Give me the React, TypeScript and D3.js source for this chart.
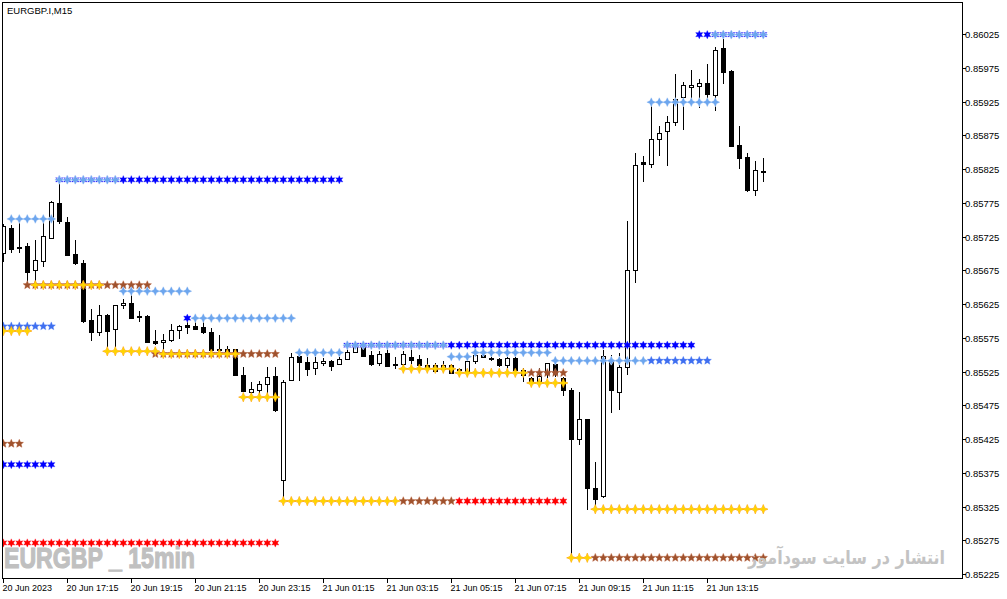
import React from "react";
import * as d3 from "d3";

const W = 1007;
const H = 599;

// ---- Candles (EURGBP.I M15), bar 0 = 20 Jun 2023 15:15 ----
const opens = [
  0.85701, 0.85738, 0.85709, 0.85711, 0.85675, 0.85689, 0.85723, 0.85775, 0.85747, 0.85699,
  0.85686, 0.85601, 0.85584, 0.85609, 0.85588, 0.85623, 0.85627, 0.85607, 0.85607, 0.8557,
  0.85568, 0.85571, 0.85587, 0.85594, 0.85592, 0.85591, 0.85584, 0.85558, 0.85558, 0.85558,
  0.8552, 0.85495, 0.85497, 0.85507, 0.85518, 0.85364, 0.85512, 0.85548, 0.85539, 0.8553,
  0.85538, 0.85541, 0.85536, 0.85543, 0.85554, 0.85561, 0.85549, 0.85538, 0.85552, 0.85534,
  0.85536, 0.85547, 0.85543, 0.85535, 0.85534, 0.85529, 0.85534, 0.85529, 0.85526, 0.85541,
  0.8555, 0.85545, 0.85543, 0.85534, 0.85545, 0.85527, 0.85516, 0.85511, 0.85521, 0.85536,
  0.85515, 0.85498, 0.85425, 0.85454, 0.85352, 0.8534, 0.8554, 0.85495, 0.85532, 0.85676,
  0.85835, 0.85832, 0.8587, 0.85882, 0.85895, 0.85931, 0.85946, 0.85948, 0.85953, 0.85935,
  0.86004, 0.8597, 0.85861, 0.85843, 0.85794, 0.85822,
];
const highs = [
  0.85744, 0.85742, 0.85745, 0.85715, 0.8572, 0.85746, 0.85778, 0.85809, 0.85754, 0.8572,
  0.8569, 0.85618, 0.85624, 0.8561, 0.85624, 0.85632, 0.8564, 0.85614, 0.85608, 0.85587,
  0.85581, 0.85595, 0.85594, 0.85601, 0.856, 0.856, 0.85589, 0.85579, 0.85563, 0.85559,
  0.85532, 0.85509, 0.85511, 0.85532, 0.85532, 0.85512, 0.85552, 0.85552, 0.85552, 0.85552,
  0.85545, 0.85542, 0.85552, 0.85564, 0.85564, 0.85564, 0.85555, 0.85556, 0.85558, 0.85546,
  0.85556, 0.85562, 0.85549, 0.85545, 0.85538, 0.8554, 0.85536, 0.8553, 0.85545, 0.85554,
  0.85552, 0.85549, 0.85545, 0.85547, 0.85547, 0.8553, 0.85517, 0.8553, 0.85538, 0.8554,
  0.85517, 0.855, 0.85495, 0.85455, 0.85391, 0.85557, 0.85549, 0.85552, 0.85748, 0.85848,
  0.85844, 0.85925, 0.85889, 0.85903, 0.85966, 0.85954, 0.85972, 0.85958, 0.85981, 0.86006,
  0.86021, 0.85971, 0.85889, 0.85848, 0.85837, 0.85841,
];
const lows = [
  0.85687, 0.85701, 0.85701, 0.85658, 0.85658, 0.8568, 0.85721, 0.85744, 0.85698, 0.85683,
  0.85597, 0.8557, 0.85578, 0.85561, 0.85561, 0.85618, 0.85603, 0.85599, 0.85567, 0.85564,
  0.85554, 0.85568, 0.85573, 0.85581, 0.85587, 0.85581, 0.85557, 0.85552, 0.85554, 0.85518,
  0.85495, 0.85487, 0.85487, 0.85487, 0.85465, 0.85335, 0.85511, 0.85511, 0.85518, 0.8552,
  0.85533, 0.85526, 0.85535, 0.85542, 0.85553, 0.85548, 0.85533, 0.85533, 0.85532, 0.85529,
  0.85529, 0.85536, 0.8553, 0.85527, 0.85525, 0.85525, 0.85522, 0.85524, 0.85524, 0.85536,
  0.85545, 0.8554, 0.85531, 0.8553, 0.85525, 0.8551, 0.85506, 0.8551, 0.85516, 0.85517,
  0.85488, 0.85249, 0.85416, 0.8532, 0.85322, 0.85338, 0.85463, 0.85468, 0.8552, 0.85656,
  0.85805, 0.85827, 0.85844, 0.8583, 0.85889, 0.85883, 0.85927, 0.85916, 0.8593, 0.85911,
  0.85951, 0.85859, 0.85825, 0.85791, 0.85785, 0.85806,
];
const closes = [
  0.85741, 0.85706, 0.85708, 0.85672, 0.8569, 0.85726, 0.85776, 0.85748, 0.85698, 0.85686,
  0.856, 0.85584, 0.85609, 0.85585, 0.85624, 0.85626, 0.85604, 0.85606, 0.85569, 0.85567,
  0.85572, 0.85587, 0.85592, 0.85591, 0.85588, 0.85584, 0.85557, 0.85557, 0.85556, 0.8552,
  0.85496, 0.85499, 0.85507, 0.85517, 0.85468, 0.8551, 0.85547, 0.85539, 0.85529, 0.85539,
  0.85541, 0.85533, 0.85543, 0.85554, 0.85562, 0.85548, 0.85536, 0.85551, 0.85533, 0.85536,
  0.85551, 0.85542, 0.85534, 0.85532, 0.85526, 0.85535, 0.85523, 0.85527, 0.85541, 0.85549,
  0.85546, 0.85544, 0.85534, 0.85545, 0.85527, 0.8552, 0.85511, 0.85519, 0.85537, 0.85522,
  0.85498, 0.85425, 0.85454, 0.85352, 0.85336, 0.85548, 0.85497, 0.85531, 0.85676, 0.85831,
  0.85832, 0.8587, 0.85879, 0.85894, 0.85928, 0.85949, 0.85949, 0.85953, 0.85936, 0.86002,
  0.85968, 0.85859, 0.85842, 0.85794, 0.85823, 0.85822,
];

// ---- Star level rows: [price, fromBar, toBar] ----
const redLevels = [
  [0.85271, 0, 34],
  [0.85333, 57, 70],
];
const brownLevels = [
  [0.85418, 0, 2],
  [0.85653, 3, 18],
  [0.85551, 19, 34],
  [0.85333, 50, 56],
  [0.85523, 66, 70],
  [0.85249, 74, 95],
];
const darkBlueLevels = [
  [0.85387, 0, 6],
  [0.85809, 7, 42],
  [0.85604, 23, 23],
  [0.85564, 43, 86],
  [0.86024, 87, 95],
];
const royalBlueLevels = [
  [0.85592, 0, 6],
  [0.85541, 81, 88],
];
const yellowLevels = [
  [0.85585, 0, 3],
  [0.85653, 4, 12],
  [0.85555, 13, 19],
  [0.85551, 20, 29],
  [0.85487, 30, 34],
  [0.85333, 35, 49],
  [0.85529, 50, 56],
  [0.85523, 57, 65],
  [0.85508, 66, 70],
  [0.85249, 71, 73],
  [0.85321, 74, 95],
];
const lightBlueLevels = [
  [0.85751, 1, 6],
  [0.85809, 7, 14],
  [0.85644, 15, 23],
  [0.85604, 24, 36],
  [0.85553, 37, 42],
  [0.85564, 43, 55],
  [0.85547, 56, 58],
  [0.85553, 59, 68],
  [0.85541, 69, 80],
  [0.85924, 81, 89],
  [0.86024, 89, 95],
];

const yTickValues = [
  0.86025, 0.85975, 0.85925, 0.85875, 0.85825, 0.85775, 0.85725, 0.85675, 0.85625,
  0.85575, 0.85525, 0.85475, 0.85425, 0.85375, 0.85325, 0.85275, 0.85225,
];
const xTickBars = [0, 8, 16, 24, 32, 40, 48, 56, 64, 72, 80, 88];
const xTickLabels = [
  "20 Jun 2023", "20 Jun 17:15", "20 Jun 19:15", "20 Jun 21:15", "20 Jun 23:15", "21 Jun 01:15",
  "21 Jun 03:15", "21 Jun 05:15", "21 Jun 07:15", "21 Jun 09:15", "21 Jun 11:15", "21 Jun 13:15",
];

const PL = 2, PT = 2, PR = 962, PB = 578;

function starType(n: number, ratio: number) {
  return {
    draw(ctx: any, size: number) {
      const r = Math.sqrt(size);
      for (let i = 0; i < 2 * n; i++) {
        const a = -Math.PI / 2 + (i * Math.PI) / n;
        const rr = i % 2 === 0 ? r : r * ratio;
        const px = rr * Math.cos(a);
        const py = rr * Math.sin(a);
        if (i === 0) ctx.moveTo(px, py);
        else ctx.lineTo(px, py);
      }
      ctx.closePath();
    },
  };
}

const styles: Record<string, any> = {
  red: { type: starType(6, 0.5), r: 4.2, fill: "#ff0000", stroke: "#ff9db0", sw: 0.8 },
  brown: { type: starType(5, 0.45), r: 4.4, fill: "#a0522d", stroke: "#d89a80", sw: 0.7 },
  darkBlue: { type: starType(6, 0.5), r: 4.2, fill: "#0000ff", stroke: "#a0a0ff", sw: 0.8 },
  royal: { type: starType(5, 0.45), r: 4.4, fill: "#3f6ff0", stroke: "#a9c3ff", sw: 0.7 },
  yellow: { type: starType(4, 0.38), r: 4.6, fill: "#ffd400", stroke: "#ff9a1a", sw: 0.8 },
  lightBlue: { type: starType(4, 0.45), r: 4.4, fill: "#6da6ee", stroke: "#cfe1fb", sw: 1 },
};

export default function App() {
  const x = d3.scaleLinear().domain([0, 95]).range([3.3, 763.3]);
  const y = d3.scaleLinear().domain([0.85225, 0.86025]).range([574, 34]);

  const candles = opens.map((o, i) => ({ i, o, h: highs[i], l: lows[i], c: closes[i] }));

  const rows: [string, number[][]][] = [
    ["red", redLevels],
    ["brown", brownLevels],
    ["darkBlue", darkBlueLevels],
    ["royal", royalBlueLevels],
    ["yellow", yellowLevels],
    ["lightBlue", lightBlueLevels],
  ];

  const markers: any[] = [];
  rows.forEach(([key, levels]) => {
    const st = styles[key];
    const path = d3.symbol().type(st.type).size(st.r * st.r)() as string;
    levels.forEach(([p, from, to], li) => {
      for (let b = from; b <= to; b++) {
        markers.push(
          <path
            key={`${key}-${li}-${b}`}
            d={path}
            transform={`translate(${x(b)},${y(p)})`}
            fill={st.fill}
            stroke={st.stroke}
            strokeWidth={st.sw}
            style={{ paintOrder: "stroke" }}
          />
        );
      }
    });
  });

  return (
    <svg
      width={W}
      height={H}
      style={{ position: "fixed", left: 0, top: 0, background: "#fff", display: "block" }}
      fontFamily="'Liberation Sans', Arial, sans-serif"
    >
      <rect x={0} y={0} width={W} height={H} fill="#fff" />
      <defs>
        <clipPath id="plotClip">
          <rect x={PL + 0.5} y={PT + 0.5} width={PR - PL - 1} height={PB - PT - 1} />
        </clipPath>
      </defs>

      <g clipPath="url(#plotClip)">
        {/* watermark */}
        <text
          x={4}
          y={568}
          fontSize={30}
          fontWeight="bold"
          fill="#c0c0c0"
          stroke="#c0c0c0"
          strokeWidth={1.2}
          textLength={191}
          lengthAdjust="spacingAndGlyphs"
          fontFamily="'Liberation Sans', Arial, sans-serif"
        >
          EURGBP _ 15min
        </text>
        {/* candles */}
        {candles.map((d) => {
          const cx = Math.round(x(d.i));
          const up = d.c > d.o;
          const yTop = Math.round(y(Math.max(d.o, d.c)));
          const yBot = Math.round(y(Math.min(d.o, d.c)));
          const hgt = Math.max(1, yBot - yTop);
          return (
            <g key={d.i}>
              <line
                x1={cx + 0.5}
                x2={cx + 0.5}
                y1={Math.round(y(d.h))}
                y2={Math.round(y(d.l))}
                stroke="#000"
                strokeWidth={1}
              />
              {up ? (
                <rect
                  x={cx - 2 + 0.5}
                  y={yTop + 0.5}
                  width={4}
                  height={Math.max(1, hgt)}
                  fill="#fff"
                  stroke="#000"
                  strokeWidth={1}
                />
              ) : (
                <rect x={cx - 2} y={yTop} width={5} height={hgt + 1} fill="#000" />
              )}
            </g>
          );
        })}
        {markers}
        <text
          x={748}
          y={564}
          fontSize={19}
          fontWeight="bold"
          fill="#c3c3c3"
          textLength={197}
          lengthAdjust="spacingAndGlyphs"
          fontFamily="'DejaVu Sans', 'Noto Sans', sans-serif"
        >
          انتشار در سایت سودآموز
        </text>
      </g>

      {/* frame */}
      <rect x={PL + 0.5} y={PT + 0.5} width={PR - PL} height={PB - PT} fill="none" stroke="#000" strokeWidth={1} />

      {/* title */}
      <text x={7} y={14} fontSize={9.5} fill="#000">
        EURGBP.I,M15
      </text>

      {/* y axis */}
      {yTickValues.map((v) => {
        const yy = Math.round(y(v)) + 0.5;
        return (
          <g key={v}>
            <line x1={PR + 0.5} x2={PR + 4} y1={yy} y2={yy} stroke="#000" strokeWidth={1} />
            <text x={965} y={yy} dy="0.35em" fontSize={9.5} fill="#000">
              {d3.format(".5f")(v)}
            </text>
          </g>
        );
      })}

      {/* x axis */}
      {xTickBars.map((b, i) => {
        const xx = Math.round(x(b)) + 0.5;
        return (
          <g key={b}>
            <line x1={xx} x2={xx} y1={PB + 0.5} y2={PB + 5} stroke="#000" strokeWidth={1} />
            <text x={xx - 1} y={591} fontSize={9} fill="#000">
              {xTickLabels[i]}
            </text>
          </g>
        );
      })}
    </svg>
  );
}
